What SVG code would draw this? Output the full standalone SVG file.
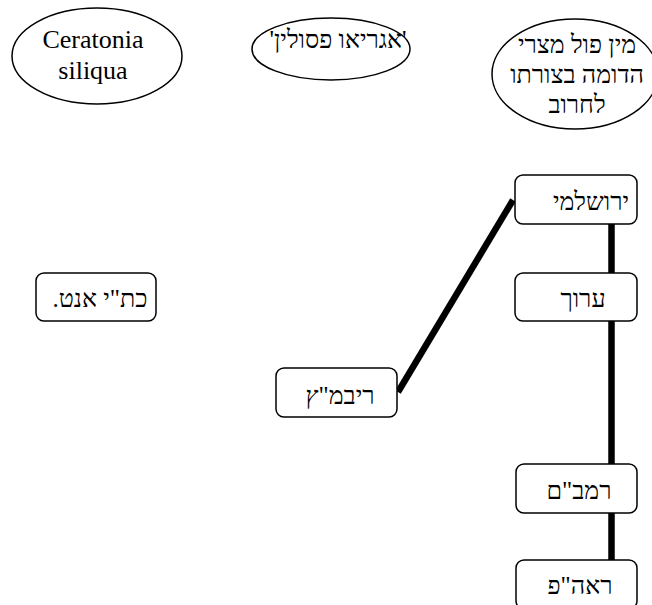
<svg xmlns="http://www.w3.org/2000/svg" width="652" height="605" viewBox="0 0 652 605">
<style>
.ell{fill:#fff;stroke:#000;stroke-width:1.5}
.box{fill:#fff;stroke:#000;stroke-width:1.5}
.t{font-family:"Liberation Serif","DejaVu Serif",serif;font-size:25px;fill:#000;text-anchor:middle}
.lat{font-size:26px}
.he{direction:rtl}
.con{stroke:#000;stroke-width:6.5;fill:none}
</style>
<rect width="652" height="605" fill="#fff"/>
<g id="connectors">
<line class="con" x1="611.5" y1="224" x2="611.5" y2="273"/>
<line class="con" x1="611.5" y1="321" x2="611.5" y2="464"/>
<line class="con" x1="611.5" y1="513" x2="611.5" y2="560"/>
<line class="con" x1="513" y1="200" x2="398" y2="392"/>
</g>
<g id="ceratonia">
<ellipse class="ell" cx="97" cy="56" rx="85" ry="48"/>
<text class="t lat" x="93" y="48">Ceratonia</text>
<text class="t lat" x="93" y="79">siliqua</text>
</g>
<g id="agriao">
<ellipse class="ell" cx="331" cy="49" rx="79" ry="31"/>
<text class="t he" x="338" y="48">'אגריאו פסולין'</text>
</g>
<g id="minpol">
<ellipse class="ell" cx="575" cy="74" rx="83" ry="55"/>
<text class="t he" x="577" y="53">מין פול מצרי</text>
<text class="t he" x="577" y="83">הדומה בצורתו</text>
<text class="t he" x="577" y="113">לחרוב</text>
</g>
<g id="yerushalmi">
<rect class="box" x="515" y="175" width="122" height="49" rx="8"/>
<text class="t he" x="591" y="210">ירושלמי</text>
</g>
<g id="arukh">
<rect class="box" x="515" y="273" width="122" height="48" rx="8"/>
<text class="t he" x="583" y="307">ערוך</text>
</g>
<g id="rambam">
<rect class="box" x="516" y="464" width="121" height="49" rx="8"/>
<text class="t he" x="579" y="499">רמב"ם</text>
</g>
<g id="raahp">
<rect class="box" x="516" y="560" width="121" height="49" rx="8"/>
<text class="t he" x="580" y="594">ראה"פ</text>
</g>
<g id="ribmatz">
<rect class="box" x="276" y="368" width="121" height="49" rx="8"/>
<text class="t he" x="340" y="404">ריבמ"ץ</text>
</g>
<g id="ktav">
<rect class="box" x="36" y="273" width="120" height="48" rx="8"/>
<text class="t he" x="100" y="307">כת"י אנט.</text>
</g>
</svg>
